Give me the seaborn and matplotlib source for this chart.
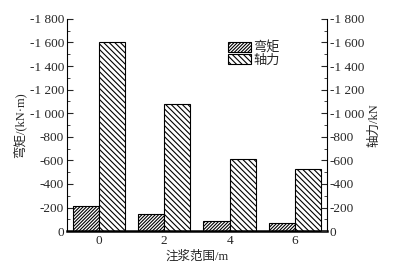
import matplotlib
matplotlib.use("Agg")
import matplotlib.pyplot as plt
import seaborn as sns
import pandas as pd
from matplotlib.patches import Patch
from matplotlib.ticker import MultipleLocator, FixedLocator

ranges = ["0", "2", "4", "6"]
moment = [-215, -145, -85, -70]
axial = [-1600, -1080, -610, -530]
series = ["弯矩", "轴力"]
yticks = [0, -200, -400, -600, -800, -1000, -1200, -1400, -1600, -1800]
ytick_labels = ["0", "-200", "-400", "-600", "-800", "-1 000", "-1 200", "-1 400", "-1 600", "-1 800"]

sns.set_theme(style="white")
plt.rcParams["font.family"] = ["Liberation Serif", "Noto Sans CJK SC"]
plt.rcParams["hatch.linewidth"] = 0.8

df = pd.DataFrame({
    "range": ranges * 2,
    "value": moment + axial,
    "series": [series[0]] * len(ranges) + [series[1]] * len(ranges),
})

fig = plt.figure(figsize=(3.93, 2.70), dpi=100)
ax = fig.add_axes([0.170, 0.144, 0.662, 0.786])
sns.barplot(data=df, x="range", y="value", hue="series", hue_order=series,
            palette=["white", "white"], edgecolor="black", linewidth=0.8,
            width=0.8, ax=ax, legend=False)

hatches = ["/" * 10, "\\" * 6]
for cont, h in zip(ax.containers, hatches):
    for bar in cont:
        bar.set_hatch(h)
        bar.set_edgecolor("black")

fs = 9.5
ax.set_ylim(0, -1800)
ax.set_xlim(-0.49, 3.49)
ax.yaxis.set_major_locator(FixedLocator(yticks))
ax.set_yticklabels(ytick_labels)
ax.yaxis.set_minor_locator(MultipleLocator(100))
ax.tick_params(axis="y", which="major", direction="in", length=4, width=0.8, labelsize=fs, left=True, pad=2)
ax.tick_params(axis="y", which="minor", direction="in", length=2, width=0.6, left=True)
ax.tick_params(axis="x", which="both", length=0, labelsize=fs, pad=3)
ax.set_xlabel("注浆范围/m", fontsize=9, labelpad=2)
ax.set_ylabel("弯矩/(kN·m)", fontsize=9, labelpad=2)

ax.spines["top"].set_visible(False)
ax.spines["left"].set_linewidth(0.8)
ax.spines["right"].set_visible(False)
ax.spines["bottom"].set_linewidth(1.8)
for s in ax.spines.values():
    s.set_color("black")

ax2 = ax.twinx()
ax2.set_ylim(0, -1800)
ax2.yaxis.set_major_locator(FixedLocator(yticks))
ax2.set_yticklabels(ytick_labels)
ax2.yaxis.set_minor_locator(MultipleLocator(100))
ax2.tick_params(axis="y", which="major", direction="in", length=4, width=0.8, labelsize=fs, right=True, pad=2)
ax2.tick_params(axis="y", which="minor", direction="in", length=2, width=0.6, right=True)
ax2.set_ylabel("轴力/kN", fontsize=9, labelpad=3)
ax2.spines["top"].set_visible(False)
ax2.spines["left"].set_visible(False)
ax2.spines["bottom"].set_visible(False)
ax2.spines["right"].set_linewidth(0.8)
ax2.spines["right"].set_color("black")

handles = [Patch(facecolor="white", edgecolor="black", hatch=h, linewidth=0.8) for h in hatches]
ax.legend(handles, series, loc="upper left", bbox_to_anchor=(0.62, 0.895), frameon=False,
          fontsize=9.5, handlelength=1.7, handleheight=0.8, handletextpad=0.2,
          labelspacing=0.0, borderaxespad=0, borderpad=0)

fig.savefig("out.png", dpi=100)
